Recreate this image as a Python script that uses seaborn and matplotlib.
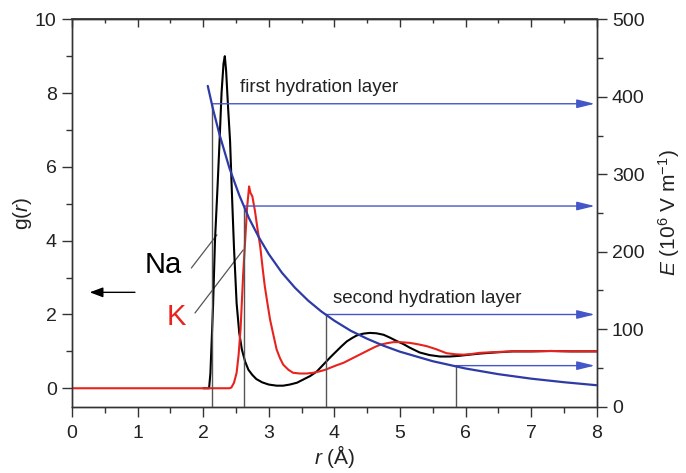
import numpy as np
import pandas as pd
import matplotlib
matplotlib.use("Agg")
import matplotlib.pyplot as plt
from matplotlib.ticker import MultipleLocator
import seaborn as sns

# Radial distribution function of water oxygen around Na+ (g(r))
r_na = [2.00, 2.09, 2.11, 2.15, 2.18, 2.22, 2.25, 2.28, 2.31, 2.33, 2.35, 2.38, 2.41,
        2.44, 2.47, 2.51, 2.55, 2.59, 2.64, 2.69, 2.75, 2.81, 2.90, 3.00, 3.12, 3.22,
        3.32, 3.43, 3.53, 3.63, 3.73, 3.80, 3.88, 3.95, 4.03, 4.11, 4.19, 4.27, 4.34,
        4.44, 4.54, 4.64, 4.75, 4.85, 4.95, 5.05, 5.15, 5.30, 5.45, 5.61, 5.76, 5.91,
        6.06, 6.22, 6.45, 6.72, 7.00, 7.30, 7.60, 8.00]
g_na = [0.00, 0.00, 0.40, 2.20, 4.00, 5.50, 6.70, 8.00, 8.80, 9.00, 8.60, 7.60, 6.70,
        5.20, 3.80, 2.30, 1.50, 1.05, 0.72, 0.50, 0.36, 0.25, 0.16, 0.10, 0.07, 0.07,
        0.10, 0.15, 0.24, 0.33, 0.45, 0.58, 0.73, 0.86, 1.00, 1.14, 1.27, 1.36, 1.43,
        1.48, 1.50, 1.49, 1.45, 1.37, 1.28, 1.20, 1.10, 0.97, 0.90, 0.86, 0.86, 0.88,
        0.91, 0.94, 0.97, 1.00, 1.00, 1.01, 1.00, 1.00]

# Radial distribution function of water oxygen around K+
r_k = [0.00, 2.40, 2.43, 2.47, 2.51, 2.54, 2.57, 2.61, 2.64, 2.67, 2.70, 2.72, 2.75,
       2.79, 2.83, 2.87, 2.91, 2.94, 2.98, 3.02, 3.07, 3.12, 3.17, 3.22, 3.30, 3.37,
       3.47, 3.58, 3.68, 3.78, 3.86, 3.93, 4.03, 4.14, 4.24, 4.34, 4.44, 4.54, 4.62,
       4.70, 4.80, 4.90, 5.00, 5.15, 5.28, 5.41, 5.55, 5.71, 5.85, 5.97, 6.10, 6.22,
       6.45, 6.72, 7.00, 7.30, 7.60, 8.00]
g_k = [0.00, 0.00, 0.02, 0.15, 0.42, 0.90, 1.60, 3.10, 4.00, 4.90, 5.47, 5.30, 5.20,
       4.80, 4.30, 3.84, 3.20, 2.76, 2.30, 1.86, 1.45, 1.05, 0.82, 0.64, 0.50, 0.42,
       0.40, 0.40, 0.42, 0.46, 0.50, 0.55, 0.62, 0.69, 0.78, 0.87, 0.96, 1.05, 1.12,
       1.18, 1.22, 1.25, 1.25, 1.23, 1.19, 1.14, 1.06, 0.95, 0.92, 0.91, 0.93, 0.96,
       0.98, 1.00, 1.00, 1.01, 1.00, 1.00]

# Electric field strength E (10^6 V/m) vs distance
r_e = [2.07, 2.15, 2.25, 2.40, 2.55, 2.70, 2.85, 3.00, 3.20, 3.40, 3.60, 3.80, 4.00,
       4.25, 4.50, 4.75, 5.00, 5.50, 6.00, 6.50, 7.00, 7.50, 8.00]
e_val = [414, 384, 351, 308, 273, 243, 218.5, 197, 173, 153.5, 137, 123, 111,
         98, 87.7, 78.7, 71, 58.7, 49.3, 42, 36.2, 31.6, 27.7]

# Hydration-shell markers: shell boundary radius and field there
layer_r = [2.13, 2.62, 3.87, 5.85]
layer_e = [391, 259, 119, 53]
layer_labels = ["first hydration layer", "second hydration layer"]

sns.set_theme(style="ticks")
plt.rcParams["font.family"] = ["Liberation Sans", "DejaVu Sans"]
plt.rcParams["mathtext.fontset"] = "custom"
plt.rcParams["mathtext.rm"] = "Liberation Sans"
plt.rcParams["mathtext.it"] = "Liberation Sans:italic"

fig = plt.figure(figsize=(6.86, 4.73), dpi=100)
ax = fig.add_axes([72 / 686, 1 - 406.7 / 473, (596.7 - 72) / 686, (406.7 - 19.3) / 473])
ax2 = ax.twinx()

spine_c = "#333333"
text_c = "#222222"
blue_curve = "#2e3aa6"
blue_arrow = "#4457c9"
grey_line = "#555555"

df_na = pd.DataFrame({"r": r_na, "g": g_na})
df_k = pd.DataFrame({"r": r_k, "g": g_k})
df_e = pd.DataFrame({"r": r_e, "E": e_val})

sns.lineplot(data=df_na, x="r", y="g", ax=ax, color="black", lw=1.5, zorder=3)
sns.lineplot(data=df_k, x="r", y="g", ax=ax, color="#e8231e", lw=1.5, zorder=4)

# Shell boundaries and field arrows on the E axis
for rr, ee in zip(layer_r, layer_e):
    ax2.plot([rr, rr], [0, ee], color=grey_line, lw=1.0, zorder=1)
    ax2.annotate("", xy=(7.97, ee), xytext=(rr, ee),
                 arrowprops=dict(arrowstyle="-|>,head_length=0.9,head_width=0.22",
                                 color=blue_arrow, lw=1.0, shrinkA=0, shrinkB=0,
                                 mutation_scale=12))
sns.lineplot(data=df_e, x="r", y="E", ax=ax2, color=blue_curve, lw=1.6, zorder=5)

ax.text(2.56, 8.14, layer_labels[0], fontsize=13.5, color=text_c, va="center", ha="left")
ax.text(3.98, 2.43, layer_labels[1], fontsize=13.5, color=text_c, va="center", ha="left")

ax.text(1.39, 3.35, "Na", fontsize=21, color="black", ha="center", va="center")
ax.text(1.59, 1.93, "K", fontsize=21, color="#e8231e", ha="center", va="center")
ax.plot([1.82, 2.21], [3.26, 4.16], color=grey_line, lw=0.9)
ax.plot([1.875, 2.61], [2.04, 3.75], color=grey_line, lw=0.9)

ax.annotate("", xy=(0.27, 2.6), xytext=(0.96, 2.6),
            arrowprops=dict(arrowstyle="-|>,head_length=0.8,head_width=0.3",
                            color="black", lw=1.0, shrinkA=0, shrinkB=0,
                            mutation_scale=10))

ax.set_xlim(0, 8)
ax.set_ylim(-0.5, 10)
ax2.set_ylim(0, 500)
ax.xaxis.set_major_locator(MultipleLocator(1))
ax.xaxis.set_minor_locator(MultipleLocator(0.5))
ax.yaxis.set_major_locator(MultipleLocator(2))
ax.yaxis.set_minor_locator(MultipleLocator(1))
ax2.yaxis.set_major_locator(MultipleLocator(100))
ax2.yaxis.set_minor_locator(MultipleLocator(50))

for a in (ax, ax2):
    for s in a.spines.values():
        s.set_visible(True)
        s.set_color(spine_c)
        s.set_linewidth(1.0)
    a.tick_params(which="major", direction="out", length=7, width=1.0,
                  color=spine_c, labelsize=14, labelcolor=text_c, pad=4)
    a.tick_params(which="minor", direction="out", length=4, width=1.0, color=spine_c)
ax.tick_params(axis="x", which="major", pad=6)

top = ax.secondary_xaxis("top")
top.xaxis.set_major_locator(MultipleLocator(1))
top.xaxis.set_minor_locator(MultipleLocator(0.5))
top.tick_params(which="both", direction="in", labeltop=False, color=spine_c, width=1.0)
top.tick_params(which="major", length=6)
top.tick_params(which="minor", length=3)
top.spines["top"].set_color(spine_c)

ax.set_xlabel("$r$ (Å)", fontsize=15, color=text_c, labelpad=1)
ax.set_ylabel("g($r$)", fontsize=15, color=text_c, labelpad=1)
ax2.set_ylabel("$E$ (10$^6$ V m$^{-1}$)", fontsize=15, color=text_c, labelpad=8)

fig.savefig("out.png", dpi=100)
